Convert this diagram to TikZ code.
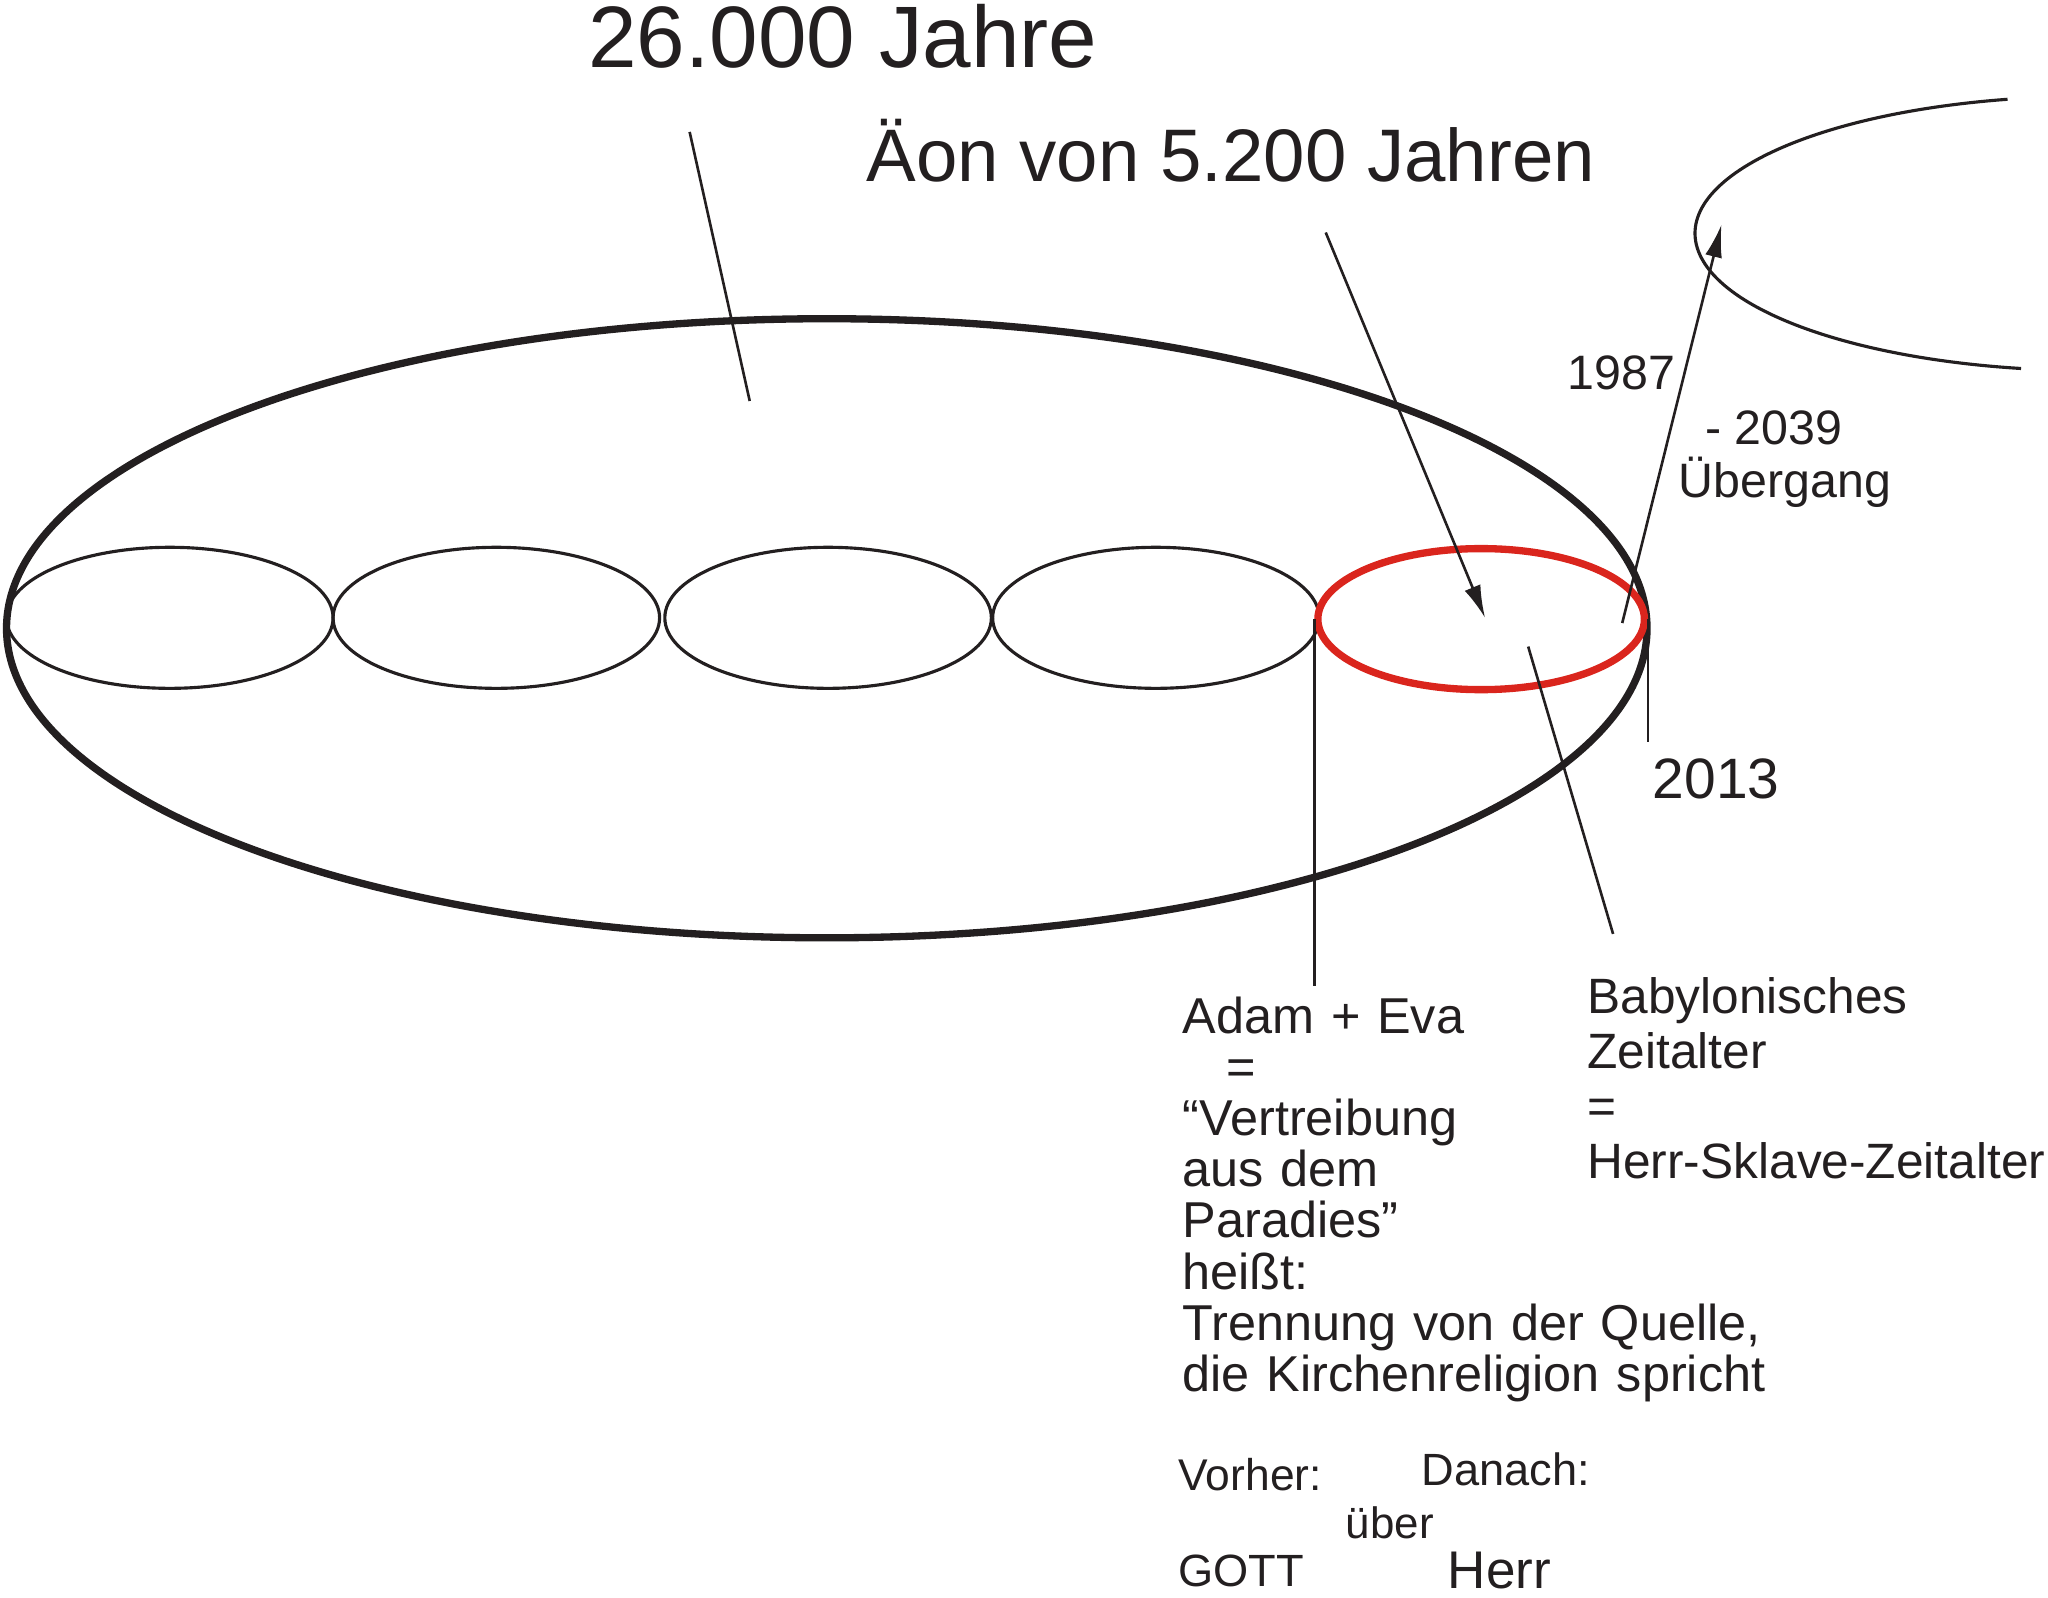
\documentclass[tikz,border=0pt]{standalone}
\usepackage{fontspec}
\setmainfont{Liberation Sans}
\usetikzlibrary{arrows.meta,shapes.geometric,positioning}
\definecolor{tinte}{RGB}{35,31,32}
\definecolor{aeonrot}{RGB}{218,37,29}

\begin{document}
\begin{tikzpicture}[x=0.5pt, y=0.5pt, yscale=-1]
    \tikzset{every node/.style={inner sep=0pt, text=tinte},
      zyklus/.style={draw=tinte, ellipse, line width=2.8pt,
        minimum width=628pt, minimum height=237pt},
      aeon/.style={draw=tinte, ellipse, line width=1.2pt,
        minimum width=125pt, minimum height=54pt},
      zeiger/.style={draw=tinte, line width=1pt},
      pfeil/.style={zeiger, -{Latex[length=12.5pt, width=6.5pt]}},
      marke/.style={anchor=base west, font=\fontsize{18.5}{20}\selectfont},
      block/.style={anchor=base west, align=left, text width=#1}}
    \useasboundingbox (0,0) rectangle (1568,1223);
    % grosser Zyklus und die fuenf Aeonen
    \node[zyklus] (zyklus) at (633,481) {};
    \foreach \i/\x in {1/130,2/380,3/634,4/885}
      \node[aeon] (aeon\i) at (\x,473) {};
    \node[aeon, draw=aeonrot, line width=2.8pt] (aeon5) at (1134,474) {};
    % naechster Zyklus
    \draw[zeiger, line width=1.2pt] (1537,76) arc[start angle=-102, end angle=-260,
      x radius=151pt, y radius=52.5pt];
    \node[anchor=base west, font=\fontsize{33.4}{40}\selectfont] (jahre) at (450,52) {26.000 Jahre};
    \node[anchor=base west, font=\fontsize{28.5}{34}\selectfont] (aeondauer) at (663,139) {Äon von 5.200 Jahren};
    \node[marke] (j1987) at (1200,298) {1987};
    \node[marke] (j2039) at (1305,340) {- 2039};
    \node[marke] (uebergang) at (1285,381) {Übergang};
    \node[marke, font=\fontsize{21.8}{26}\selectfont] (j2013) at (1265,611) {2013};
    \node[block=230pt, font=\fontsize{19.3}{19.6}\selectfont] (adam) at (905,791)
      {Adam + Eva\\ \hspace*{17pt}=\\“Vertreibung\\aus dem\\Paradies”\\heißt:\\
       Trennung von der Quelle,\\die Kirchenreligion spricht};
    \node[block=180pt, font=\fontsize{19}{21}\selectfont] (babylon) at (1215,776)
      {Babylonisches\\Zeitalter\\=\\Herr-Sklave-Zeitalter};
    \node[marke, font=\fontsize{17}{20}\selectfont] (vorher) at (902,1141) {Vorher:};
    \node[marke, font=\fontsize{17.3}{20}\selectfont] (danach) at (1088,1137) {Danach:};
    \node[marke, font=\fontsize{16.8}{20}\selectfont] (ueber) at (1030,1178) {über};
    \node[marke, font=\fontsize{17.3}{20}\selectfont] (gott) at (902,1215) {GOTT};
    \node[marke, font=\fontsize{20.3}{24}\selectfont] (herr) at (1108,1216) {Herr};
    % Enden der Zeiger
    \coordinate (jahreZeiger) at (528,101);
    \coordinate (zyklusInnen) at (574,307);
    \coordinate (aeonZeiger) at (1015,178);
    \coordinate (aeonMitte) at (1137,473);
    \coordinate (uebergangFuss) at (1242,477);
    \coordinate (naechster) at (1318,172);
    \coordinate (adamFuss) at (1010,755);
    \coordinate (babylonStart) at (1170,495);
    \coordinate (babylonFuss) at (1235,715);
    \coordinate (j2013Fuss) at (1262,568);
    \draw[zeiger] (jahreZeiger) -- (zyklusInnen);
    \draw[pfeil] (aeonZeiger) -- (aeonMitte);
    \draw[pfeil] (uebergangFuss) -- (naechster);
    \draw[zeiger] (aeon5.west) -- (aeon5.west |- adamFuss);
    \draw[zeiger] (babylonStart) -- (babylonFuss);
    \draw[zeiger, line width=0.5pt] (aeon5.east) -- (aeon5.east |- j2013Fuss);
\end{tikzpicture}
\end{document}
